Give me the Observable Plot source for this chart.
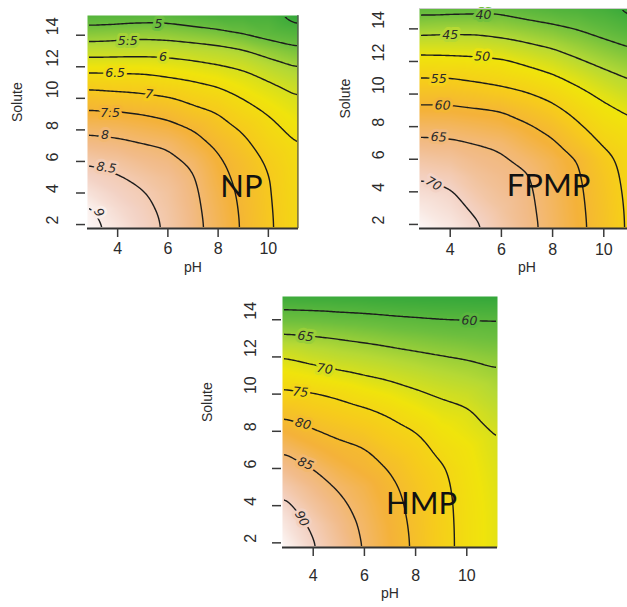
<!DOCTYPE html>
<html><head><meta charset="utf-8">
<script src="https://cdn.jsdelivr.net/npm/d3@7"></script>
<script src="https://cdn.jsdelivr.net/npm/@observablehq/plot@0.6"></script>
<style>
html,body{margin:0;padding:0;background:#fff;overflow:hidden;width:627px;height:607px;}
.panel{position:absolute;}
.panel svg{max-width:none !important;}
</style></head><body>
<div id="np" class="panel" style="left:0px;top:0px;width:310px;height:285px"></div>
<div id="fpmp" class="panel" style="left:310px;top:0px;width:340px;height:285px"></div>
<div id="hmp" class="panel" style="left:195px;top:285px;width:320px;height:322px"></div>
<script>
// grid coordinates (edge columns/rows sit on the plot borders)
const pHValues = [2.8, 4, 5, 6, 7, 8, 9, 10, 11.2];
const soluteValues = [1.75, 3, 4, 5, 6, 7, 8, 9, 10, 11, 12, 13, 14, 15.25];
const pHTicks = [4, 6, 8, 10];
const soluteTicks = [2, 4, 6, 8, 10, 12, 14];
const pHDomain = [2.8, 11.2];
const soluteDomain = [1.75, 15.25];

// NP response (rows = solute bottom..top, columns = pH left..right)
const npGrid = [
  [9.14, 8.90, 8.67, 8.44, 8.15, 7.81, 7.45, 7.08, 6.63],
  [9.07, 8.77, 8.60, 8.40, 8.12, 7.77, 7.43, 7.06, 6.63],
  [8.86, 8.65, 8.53, 8.35, 8.09, 7.72, 7.40, 7.04, 6.61],
  [8.67, 8.54, 8.40, 8.26, 8.04, 7.65, 7.35, 7.02, 6.58],
  [8.46, 8.35, 8.22, 8.13, 7.92, 7.57, 7.27, 6.93, 6.55],
  [8.19, 8.12, 8.04, 7.96, 7.71, 7.42, 7.12, 6.79, 6.50],
  [7.92, 7.87, 7.78, 7.69, 7.50, 7.21, 6.96, 6.64, 6.36],
  [7.59, 7.57, 7.50, 7.39, 7.18, 7.01, 6.72, 6.49, 6.20],
  [7.24, 7.18, 7.12, 7.04, 6.86, 6.72, 6.49, 6.26, 6.03],
  [6.81, 6.76, 6.73, 6.63, 6.53, 6.41, 6.22, 6.03, 5.78],
  [6.30, 6.30, 6.30, 6.24, 6.16, 6.05, 5.94, 5.71, 5.49],
  [5.80, 5.82, 5.83, 5.82, 5.75, 5.67, 5.55, 5.33, 5.11],
  [5.29, 5.34, 5.39, 5.35, 5.27, 5.18, 5.02, 4.85, 4.72],
  [4.70, 4.72, 4.74, 4.75, 4.66, 4.58, 4.57, 4.56, 4.28]
];
// FPMP response
const fpmpGrid = [
  [74.0, 72.4, 70.6, 68.3, 66.1, 63.7, 61.1, 57.9, 53.6],
  [72.4, 71.2, 69.4, 67.5, 65.8, 63.5, 60.9, 57.7, 53.5],
  [71.1, 70.3, 68.2, 66.8, 65.6, 63.3, 60.7, 57.4, 53.3],
  [69.6, 68.9, 67.2, 66.2, 65.3, 62.9, 60.4, 57.0, 53.0],
  [67.8, 67.2, 66.1, 65.5, 64.2, 62.3, 59.9, 56.2, 52.6],
  [65.8, 65.6, 65.0, 64.3, 62.4, 60.6, 57.6, 54.4, 51.9],
  [63.6, 63.4, 62.8, 62.1, 60.6, 58.6, 55.6, 52.7, 50.8],
  [61.0, 60.9, 60.4, 59.9, 58.1, 56.2, 53.5, 51.0, 49.0],
  [58.1, 58.1, 57.4, 56.5, 55.3, 53.6, 51.2, 49.0, 46.6],
  [55.0, 55.0, 54.2, 53.4, 52.3, 50.7, 48.6, 46.4, 44.5],
  [51.6, 51.4, 51.1, 50.7, 49.1, 47.6, 45.5, 43.8, 42.0],
  [47.6, 47.6, 47.5, 46.7, 45.5, 44.3, 42.7, 41.1, 39.4],
  [43.2, 43.6, 43.6, 42.9, 42.0, 41.0, 39.8, 38.3, 36.6],
  [38.2, 38.2, 38.3, 38.5, 37.6, 36.8, 36.3, 35.5, 33.6]
];
// HMP response
const hmpGrid = [
  [94.0, 90.4, 87.6, 84.8, 82.1, 79.4, 76.5, 73.6, 71.1],
  [92.4, 89.4, 86.7, 84.4, 81.8, 79.2, 76.4, 73.6, 71.1],
  [91.0, 87.9, 85.8, 83.8, 81.4, 78.9, 76.3, 73.5, 71.0],
  [89.1, 86.5, 84.7, 83.0, 80.8, 78.4, 76.0, 73.3, 70.8],
  [86.9, 85.0, 82.9, 81.4, 79.8, 77.5, 75.4, 73.0, 70.5],
  [84.8, 82.6, 81.1, 80.3, 78.1, 76.5, 74.1, 72.6, 70.1],
  [82.1, 80.3, 79.1, 78.0, 76.4, 75.0, 72.7, 71.5, 69.7],
  [79.2, 77.8, 76.8, 75.8, 74.5, 72.8, 71.2, 70.5, 68.3],
  [75.8, 75.3, 74.3, 73.0, 71.9, 70.6, 69.6, 68.8, 66.9],
  [72.9, 71.9, 70.9, 70.0, 69.2, 68.3, 67.4, 66.7, 65.6],
  [70.0, 68.6, 67.8, 67.2, 66.5, 65.8, 65.2, 64.7, 64.0],
  [65.9, 65.4, 64.9, 64.3, 63.7, 63.2, 62.7, 62.3, 61.9],
  [62.0, 61.8, 61.4, 61.1, 60.7, 60.4, 60.1, 60.0, 59.9],
  [57.4, 57.2, 57.1, 57.0, 56.8, 56.7, 56.6, 56.5, 56.4]
];

const npLevels = [4.5, 5, 5.5, 6, 6.5, 7, 7.5, 8, 8.5, 9];
const fpmpLevels = [35, 40, 45, 50, 55, 60, 65, 70];
const hmpLevels = [60, 65, 70, 75, 80, 85, 90];

// contour labels (level, where it sits, its slope)
const npLabels = [
  {level: 5, pH: 5.63, solute: 14.68, angle: 0},
  {level: 5.5, pH: 4.4, solute: 13.65, angle: 0},
  {level: 6, pH: 5.8, solute: 12.62, angle: 0},
  {level: 6.5, pH: 3.9, solute: 11.6, angle: 0},
  {level: 7, pH: 5.25, solute: 10.25, angle: 5},
  {level: 7.5, pH: 3.7, solute: 9.1, angle: 0},
  {level: 8, pH: 3.5, solute: 7.65, angle: 0},
  {level: 8.5, pH: 3.55, solute: 5.6, angle: 8},
  {level: 9, pH: 3.25, solute: 2.75, angle: 62}
];
const fpmpLabels = [
  {level: 40, pH: 5.3, solute: 14.85, angle: 0},
  {level: 45, pH: 4.0, solute: 13.65, angle: 0},
  {level: 50, pH: 5.25, solute: 12.3, angle: 3},
  {level: 55, pH: 3.55, solute: 10.95, angle: 0},
  {level: 60, pH: 3.7, solute: 9.3, angle: 2},
  {level: 65, pH: 3.55, solute: 7.35, angle: 3},
  {level: 70, pH: 3.35, solute: 4.5, angle: 30}
];
const hmpLabels = [
  {level: 60, pH: 10.1, solute: 13.95, angle: 3},
  {level: 65, pH: 3.7, solute: 13.1, angle: 8},
  {level: 70, pH: 4.45, solute: 11.35, angle: 8},
  {level: 75, pH: 3.5, solute: 10.1, angle: 5},
  {level: 80, pH: 3.6, solute: 8.4, angle: 15},
  {level: 85, pH: 3.7, solute: 6.25, angle: 22},
  {level: 90, pH: 3.55, solute: 3.3, angle: 62}
];

// terrain-like palette (fraction of range -> colour)
const terrainStops = [0, 0.15, 0.28, 0.42, 0.55, 0.68, 0.8, 0.9, 1];
const terrainColors = ["#33a73a", "#6dbf3e", "#b5d935", "#f0e40c", "#f6cc1c", "#f4b23a", "#f2bb88", "#f3d2c4", "#fdf8f7"];

function toPoints(grid) {
  return grid.flatMap((row, i) => row.map((v, j) => ({pH: pHValues[j], solute: soluteValues[i], v})));
}

let clipCounter = 0;
function insetClip(inset) {
  return function(index, scales, values, dimensions, context, next) {
    const g = next(index, scales, values, dimensions, context);
    const ns = "http://www.w3.org/2000/svg";
    const id = "inset-clip-" + (++clipCounter);
    const cp = document.createElementNS(ns, "clipPath");
    cp.setAttribute("id", id);
    const r = document.createElementNS(ns, "rect");
    r.setAttribute("x", dimensions.marginLeft + inset);
    r.setAttribute("y", dimensions.marginTop + inset);
    r.setAttribute("width", dimensions.width - dimensions.marginLeft - dimensions.marginRight - 2 * inset);
    r.setAttribute("height", dimensions.height - dimensions.marginTop - dimensions.marginBottom - 2 * inset);
    cp.appendChild(r);
    g.insertBefore(cp, g.firstChild);
    g.setAttribute("clip-path", `url(#${id})`);
    return g;
  };
}

function drawPanel(cfg) {
  const pts = toPoints(cfg.grid);
  const [vmin, vmax] = d3.extent(pts, d => d.v);
  const domain = terrainStops.map(t => vmin + t * (vmax - vmin));
  const font = "'Liberation Sans', Arial, sans-serif";
  const ink = "#2b2b2b";
  const marks = [
    Plot.raster(pts, {x: "pH", y: "solute", fill: "v", interpolate: "barycentric", pixelSize: 1}),
    Plot.contour(pts, {x: "pH", y: "solute", value: "v", interpolate: "barycentric",
      thresholds: cfg.levels, fill: "none", stroke: "#1c1c1c", strokeWidth: 1.4, blur: 2.5,
      render: insetClip(1.5)}),
    Plot.text(cfg.labels, {x: "pH", y: "solute", text: d => String(d.level), rotate: "angle",
      fill: "#2a2a2a", stroke: "level", strokeWidth: 6, paintOrder: "stroke",
      fontSize: 12.5, fontStyle: "italic", fontFamily: "'DejaVu Sans', sans-serif"}),
    Plot.ruleY([soluteDomain[0]], {stroke: "#333", strokeWidth: 1.8}),
    Plot.axisX(pHTicks, {tickSize: 9, tickFormat: () => "", label: null, stroke: "#3a3a3a", strokeWidth: 1.5}),
    Plot.axisY(soluteTicks, {tickSize: 9, dx: cfg.tickGap, tickFormat: () => "", label: null, stroke: "#3a3a3a", strokeWidth: 1.5}),
    Plot.text(pHTicks, {x: d => d, text: d => String(d), frameAnchor: "bottom", dy: cfg.xTickDy,
      fontSize: 16, fill: ink, fontFamily: font}),
    Plot.text(soluteTicks, {y: d => d, text: d => String(d), frameAnchor: "left", dx: cfg.yTickDx,
      rotate: -90, fontSize: 16, fill: ink, fontFamily: font}),
    Plot.text(["pH"], {frameAnchor: "bottom", dy: cfg.xTitleDy, fontSize: 14, fill: ink, fontFamily: font}),
    Plot.text(["Solute"], {frameAnchor: "left", dx: cfg.yTitleDx, rotate: -90, fontSize: 14, fill: ink, fontFamily: font}),
    Plot.text([cfg.name], {frameAnchor: "bottom-right", dx: cfg.nameDx, dy: cfg.nameDy,
      textAnchor: "middle", fontSize: 31, fill: "#111", fontFamily: "Lato, 'Open Sans', sans-serif"})
  ];
  if (cfg.rightBorder) marks.push(Plot.ruleX([pHDomain[1]], {stroke: "#555", strokeWidth: 1.2, dx: -0.6}));
  if (cfg.topBorder) marks.push(Plot.ruleY([soluteDomain[1]], {stroke: "#ccc", strokeWidth: 1}));
  const chart = Plot.plot({
    width: cfg.width, height: cfg.height,
    marginLeft: cfg.ml, marginRight: cfg.mr, marginTop: cfg.mt, marginBottom: cfg.mb,
    style: {background: "transparent", color: "#333", fontFamily: font, overflow: "visible", maxWidth: "none"},
    x: {domain: pHDomain, axis: null},
    y: {domain: soluteDomain, axis: null},
    color: {type: "linear", domain, range: terrainColors, interpolate: "rgb"},
    marks
  });
  document.getElementById(cfg.id).appendChild(chart);
}

drawPanel({id: "np", grid: npGrid, levels: npLevels, labels: npLabels, name: "NP",
  width: 310, height: 285, ml: 87, mr: 12, mt: 15, mb: 57,
  tickGap: -2, xTickDy: 25, xTitleDy: 43, yTickDx: -35, yTitleDx: -70,
  nameDx: -57, nameDy: -32, rightBorder: true});
drawPanel({id: "fpmp", grid: fpmpGrid, levels: fpmpLevels, labels: fpmpLabels, name: "FPMP",
  width: 340, height: 285, ml: 109, mr: 16, mt: 8, mb: 57,
  tickGap: -1, xTickDy: 26, xTitleDy: 43, yTickDx: -41, yTitleDx: -74,
  nameDx: -86, nameDy: -33, topBorder: true});
drawPanel({id: "hmp", grid: hmpGrid, levels: hmpLevels, labels: hmpLabels, name: "HMP",
  width: 320, height: 322, ml: 87, mr: 18, mt: 11, mb: 60,
  tickGap: -1, xTickDy: 33, xTitleDy: 50, yTickDx: -32, yTitleDx: -75,
  nameDx: -76, nameDy: -34});
</script>
</body></html>
